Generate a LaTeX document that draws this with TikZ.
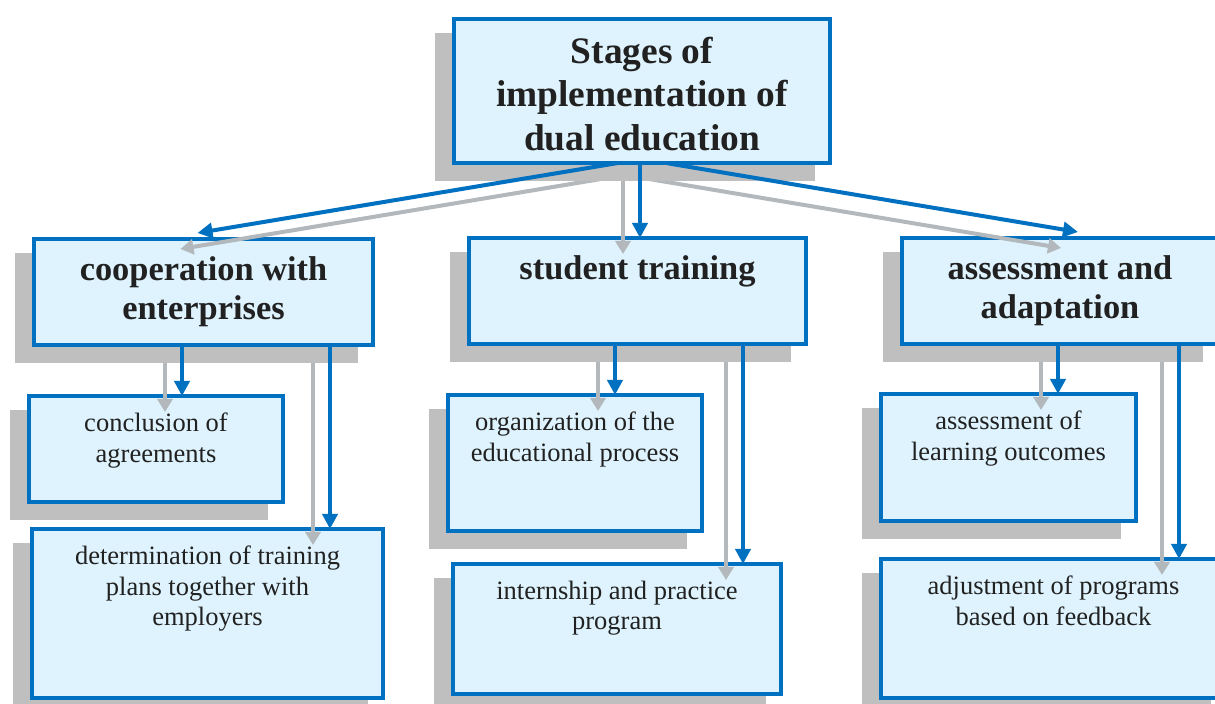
\documentclass[tikz,border=0pt]{standalone}
\usepackage{fontspec}
\setmainfont{Liberation Serif}
\usetikzlibrary{arrows.meta,calc,fit}

\definecolor{boxfill}{RGB}{222,243,253}
\definecolor{boxline}{RGB}{0,112,192}
\definecolor{shadowgrey}{RGB}{191,191,191}
\definecolor{ghost}{RGB}{178,184,188}
\definecolor{ink}{RGB}{33,33,33}

% drawing order: lower boxes, their grey links, middle boxes,
% grey links from the head, head shadow, blue links from the head, head box
\pgfdeclarelayer{lowboxes}
\pgfdeclarelayer{lowghost}
\pgfdeclarelayer{midboxes}
\pgfdeclarelayer{topghost}
\pgfdeclarelayer{topshade}
\pgfdeclarelayer{toplinks}
\pgfsetlayers{lowboxes,lowghost,midboxes,topghost,topshade,toplinks,main}

\tikzset{
  castshade/.style={fill=shadowgrey, draw=none, inner sep=0pt, outer sep=0pt},
  card/.style={fill=boxfill, draw=boxline, line width=2pt, inner sep=0pt, outer sep=0pt},
  bluelink/.style={draw=boxline, line width=2pt, -{Triangle[length=7.5pt,width=7.5pt]}},
  greylink/.style={draw=ghost, line width=2pt, -{Triangle[length=6.5pt,width=7.5pt]}},
  headtext/.style={anchor=north, yshift=-8.7pt, align=center, inner sep=0pt, text=ink,
    font=\fontsize{18.7}{21.75}\selectfont\bfseries},
  stagetext/.style={anchor=north, yshift=-8.8pt, align=center, inner sep=0pt, text=ink,
    font=\fontsize{17.2}{19.5}\selectfont\bfseries},
  steptext/.style={anchor=north, yshift=-8.45pt, align=center, inner sep=0pt, text=ink,
    font=\fontsize{13.25}{15.1}\selectfont},
}

% a box with its shadow; arguments: name, left, top, right, bottom (outer edges)
\newcommand\panel[5]{%
  \node[castshade, fit={({#2-17},{#3+16}) ({#4-17},{#5+16})}] (#1sh) {};
  \node[card, fit={({#2+2},{#3+2}) ({#4-2},{#5-2})}] (#1) {};
}

\begin{document}
\begin{tikzpicture}[x=0.5pt,y=-0.5pt]
\useasboundingbox (0,0) rectangle (1215,704);

% third level
\begin{pgfonlayer}{lowboxes}
  \panel{lA}{27}{394}{285}{504}
  \panel{lB}{30}{527}{385}{700}
  \panel{mA}{446}{393}{704}{533}
  \panel{mB}{451}{562}{783}{696}
  \panel{rA}{879}{392}{1138}{523}
  \panel{rB}{879}{557}{1228}{700}
  \node[steptext] (lAt) at (lA.north) {conclusion of\\agreements};
  \node[steptext] (lBt) at (lB.north) {determination of training\\plans together with\\employers};
  \node[steptext] (mAt) at (mA.north) {organization of the\\educational process};
  \node[steptext] (mBt) at (mB.north) {internship and practice\\program};
  \node[steptext] (rAt) at (rA.north) {assessment of\\learning outcomes};
  \node[steptext] (rBt) at (rB.north) {adjustment of programs\\based on feedback};
\end{pgfonlayer}

% second level
\begin{pgfonlayer}{midboxes}
  \panel{cA}{32}{237}{375}{347}
  \panel{cB}{467}{236}{808}{346}
  \panel{cC}{900}{236}{1220}{346}
  \node[stagetext] (cAt) at (cA.north) {cooperation with\\enterprises};
  \node[stagetext] (cBt) at (cB.north) {student training};
  \node[stagetext] (cCt) at (cC.north) {assessment and\\adaptation};
\end{pgfonlayer}

% head
\begin{pgfonlayer}{topshade}
  \node[castshade, fit={(435,33) (815,181)}] (topsh) {};
\end{pgfonlayer}
\node[card, fit={(454,19) (830,163)}] (top) {};
\node[headtext] (topt) at (top.north) {Stages of\\implementation of\\dual education};

% shadow offset and columns of the vertical links
\coordinate (off) at (-17,16);
\coordinate (xa) at (182,0);
\coordinate (xb) at (330,0);
\coordinate (xc) at (615,0);
\coordinate (xd) at (743,0);
\coordinate (xe) at (1058,0);
\coordinate (xf) at (1179,0);

% links from the head
\begin{pgfonlayer}{toplinks}
  \draw[bluelink] ($(top.south)+(0,-4)$) -- ($(cA.north)+(-6,-6)$);
  \draw[bluelink] ($(top.south)+(-2,0)$) -- ($(top.south |- cB.north)+(-2,0)$);
  \draw[bluelink] ($(top.south)+(0,-4)$) -- ($(cC.north)+(18,-6)$);
\end{pgfonlayer}
\begin{pgfonlayer}{topghost}
  \draw[greylink] ($(top.south)+(0,-4)+(off)$) -- ($(cA.north)+(-6,-6)+(off)$);
  \draw[greylink] ($(top.south)+(-2,0)+(off)$) -- ($(top.south |- cB.north)+(-2,0)+(off)$);
  \draw[greylink] ($(top.south)+(0,-4)+(off)$) -- ($(cC.north)+(18,-6)+(off)$);
\end{pgfonlayer}

% links from the second level
\draw[bluelink] (cA.south -| xa) -- (lA.north -| xa);
\draw[bluelink] (cA.south -| xb) -- (lB.north -| xb);
\draw[bluelink] (cB.south -| xc) -- (mA.north -| xc);
\draw[bluelink] (cB.south -| xd) -- (mB.north -| xd);
\draw[bluelink] (cC.south -| xe) -- (rA.north -| xe);
\draw[bluelink] (cC.south -| xf) -- (rB.north -| xf);
\begin{pgfonlayer}{lowghost}
  \draw[greylink] ($(cA.south -| xa)+(off)$) -- ($(lA.north -| xa)+(off)$);
  \draw[greylink] ($(cA.south -| xb)+(off)$) -- ($(lB.north -| xb)+(off)$);
  \draw[greylink] ($(cB.south -| xc)+(off)$) -- ($(mA.north -| xc)+(off)$);
  \draw[greylink] ($(cB.south -| xd)+(off)$) -- ($(mB.north -| xd)+(off)$);
  \draw[greylink] ($(cC.south -| xe)+(off)$) -- ($(rA.north -| xe)+(off)$);
  \draw[greylink] ($(cC.south -| xf)+(off)$) -- ($(rB.north -| xf)+(off)$);
\end{pgfonlayer}
\end{tikzpicture}
\end{document}
